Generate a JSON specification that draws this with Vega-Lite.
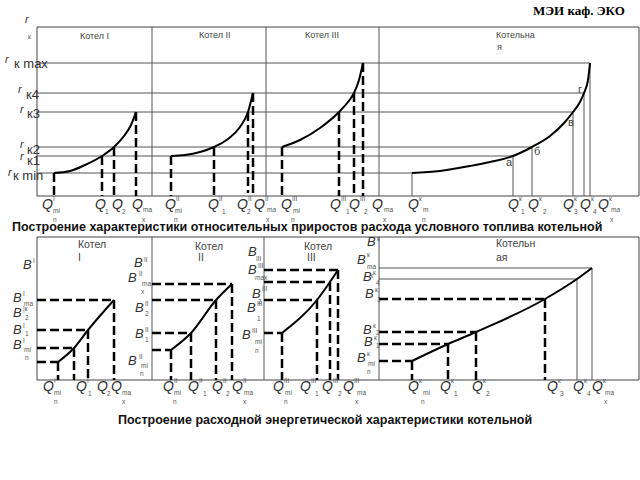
{
"$schema":"https://vega.github.io/schema/vega-lite/v6.json",
"width":640,"height":480,"autosize":{"type":"none"},"padding":0,
"background":"white",
"config":{"view":{"stroke":null},"text":{"font":"Liberation Sans","align":"left","baseline":"middle"}},
"datasets":{
"frames":[{"x":37,"y":27,"x2":639,"y2":196},{"x":37,"y":237,"x2":639,"y2":380}],
"segs":[
{"x":152,"y":27,"x2":152,"y2":196,"k":"thin"},{"x":266,"y":27,"x2":266,"y2":196,"k":"thin"},{"x":379,"y":27,"x2":379,"y2":196,"k":"thin"},
{"x":37,"y":63,"x2":590,"y2":63,"k":"thin"},{"x":37,"y":93,"x2":584,"y2":93,"k":"thin"},{"x":37,"y":112,"x2":573,"y2":112,"k":"thin"},
{"x":37,"y":147,"x2":532,"y2":147,"k":"thin"},{"x":37,"y":156,"x2":513,"y2":156,"k":"thin"},{"x":37,"y":173,"x2":412,"y2":173,"k":"thin"},
{"x":412,"y":173,"x2":412,"y2":196,"k":"thin"},{"x":513,"y":156,"x2":513,"y2":196,"k":"thin"},{"x":532,"y":147,"x2":532,"y2":196,"k":"thin"},
{"x":573,"y":112,"x2":573,"y2":196,"k":"thin"},{"x":584,"y":93,"x2":584,"y2":196,"k":"thin"},{"x":590,"y":63,"x2":590,"y2":196,"k":"thin"},
{"x":54,"y":173,"x2":54,"y2":196,"k":"dash"},{"x":102,"y":156,"x2":102,"y2":196,"k":"dash"},{"x":114,"y":147,"x2":114,"y2":196,"k":"dash"},{"x":136,"y":112,"x2":136,"y2":196,"k":"dash"},
{"x":171,"y":156,"x2":171,"y2":196,"k":"dash"},{"x":214,"y":147,"x2":214,"y2":196,"k":"dash"},{"x":248,"y":112,"x2":248,"y2":193,"k":"dash"},{"x":253,"y":93,"x2":253,"y2":196,"k":"dash"},
{"x":282,"y":147,"x2":282,"y2":196,"k":"dash"},{"x":339,"y":112,"x2":339,"y2":196,"k":"dash"},{"x":354,"y":93,"x2":354,"y2":196,"k":"dash"},{"x":363,"y":63,"x2":363,"y2":196,"k":"dash"},
{"x":152,"y":237,"x2":152,"y2":380,"k":"thin"},{"x":264,"y":237,"x2":264,"y2":380,"k":"thin"},{"x":379,"y":237,"x2":379,"y2":380,"k":"thin"},
{"x":379,"y":268,"x2":592,"y2":268,"k":"thin"},{"x":379,"y":279,"x2":577,"y2":279,"k":"thin"},{"x":577,"y":279,"x2":577,"y2":380,"k":"thin"},{"x":592,"y":268,"x2":592,"y2":380,"k":"thin"},
{"x":37,"y":300,"x2":114,"y2":300,"k":"dash"},{"x":37,"y":330,"x2":88,"y2":330,"k":"dash"},{"x":37,"y":348,"x2":74,"y2":348,"k":"dash"},{"x":37,"y":362,"x2":58,"y2":362,"k":"dash"},
{"x":58,"y":362,"x2":58,"y2":380,"k":"dash"},{"x":74,"y":348,"x2":74,"y2":380,"k":"dash"},{"x":88,"y":330,"x2":88,"y2":380,"k":"dash"},{"x":114,"y":300,"x2":114,"y2":380,"k":"dash"},
{"x":152,"y":284,"x2":232,"y2":284,"k":"dash"},{"x":152,"y":300,"x2":216,"y2":300,"k":"dash"},{"x":152,"y":333,"x2":191,"y2":333,"k":"dash"},{"x":152,"y":350,"x2":171,"y2":350,"k":"dash"},
{"x":171,"y":350,"x2":171,"y2":380,"k":"dash"},{"x":191,"y":333,"x2":191,"y2":380,"k":"dash"},{"x":216,"y":300,"x2":216,"y2":380,"k":"dash"},{"x":232,"y":284,"x2":232,"y2":380,"k":"dash"},
{"x":264,"y":270,"x2":338,"y2":270,"k":"dash"},{"x":264,"y":282,"x2":330,"y2":282,"k":"dash"},{"x":264,"y":300,"x2":317,"y2":300,"k":"dash"},{"x":264,"y":333,"x2":282,"y2":333,"k":"dash"},
{"x":282,"y":333,"x2":282,"y2":380,"k":"dash"},{"x":317,"y":300,"x2":317,"y2":380,"k":"dash"},{"x":330,"y":282,"x2":330,"y2":380,"k":"dash"},{"x":338,"y":270,"x2":338,"y2":380,"k":"dash"},
{"x":379,"y":299,"x2":545,"y2":299,"k":"dash"},{"x":379,"y":332,"x2":476,"y2":332,"k":"dash"},{"x":379,"y":344,"x2":448,"y2":344,"k":"dash"},{"x":379,"y":361,"x2":412,"y2":361,"k":"dash"},
{"x":412,"y":361,"x2":412,"y2":380,"k":"dash"},{"x":448,"y":344,"x2":448,"y2":380,"k":"dash"},{"x":476,"y":332,"x2":476,"y2":380,"k":"dash"},{"x":545,"y":299,"x2":545,"y2":380,"k":"dash"}
],
"curves":[
{"c":"t1","x":54,"y":173},{"c":"t1","x":70,"y":171},{"c":"t1","x":85,"y":165},{"c":"t1","x":102,"y":156},{"c":"t1","x":114,"y":147},{"c":"t1","x":124,"y":136},{"c":"t1","x":131,"y":125},{"c":"t1","x":136,"y":112},
{"c":"t2","x":171,"y":156},{"c":"t2","x":185,"y":155},{"c":"t2","x":200,"y":152},{"c":"t2","x":214,"y":147},{"c":"t2","x":228,"y":139},{"c":"t2","x":240,"y":127},{"c":"t2","x":248,"y":112},{"c":"t2","x":253,"y":93},
{"c":"t3","x":282,"y":147},{"c":"t3","x":300,"y":140},{"c":"t3","x":320,"y":128},{"c":"t3","x":339,"y":112},{"c":"t3","x":348,"y":102},{"c":"t3","x":354,"y":93},{"c":"t3","x":359,"y":80},{"c":"t3","x":363,"y":63},
{"c":"t4","x":412,"y":173},{"c":"t4","x":440,"y":171},{"c":"t4","x":470,"y":166},{"c":"t4","x":490,"y":162},{"c":"t4","x":513,"y":156},{"c":"t4","x":532,"y":147},{"c":"t4","x":550,"y":136},{"c":"t4","x":565,"y":122},{"c":"t4","x":573,"y":112},{"c":"t4","x":580,"y":102},{"c":"t4","x":584,"y":93},{"c":"t4","x":588,"y":80},{"c":"t4","x":590,"y":63},
{"c":"b1","x":58,"y":362},{"c":"b1","x":74,"y":348},{"c":"b1","x":88,"y":330},{"c":"b1","x":114,"y":300},
{"c":"b2","x":171,"y":350},{"c":"b2","x":191,"y":333},{"c":"b2","x":216,"y":300},{"c":"b2","x":232,"y":284},
{"c":"b3","x":282,"y":333},{"c":"b3","x":317,"y":300},{"c":"b3","x":330,"y":282},{"c":"b3","x":338,"y":270},
{"c":"b4","x":412,"y":361},{"c":"b4","x":448,"y":344},{"c":"b4","x":476,"y":332},{"c":"b4","x":545,"y":299},{"c":"b4","x":577,"y":279},{"c":"b4","x":592,"y":268}
],
"labels":[
{"k":"r","t":"r","x":25,"y":20},{"k":"s","t":"к","x":28,"y":37},
{"k":"r","t":"r","x":5,"y":60},{"k":"lb","t":"к max","x":14,"y":64},
{"k":"r","t":"r","x":18,"y":90},{"k":"lb","t":"к4","x":26,"y":95},
{"k":"r","t":"r","x":20,"y":110},{"k":"lb","t":"к3","x":27,"y":114},
{"k":"r","t":"r","x":20,"y":145},{"k":"lb","t":"к2","x":27,"y":150},
{"k":"r","t":"r","x":20,"y":157},{"k":"lb","t":"к1","x":27,"y":161},
{"k":"r","t":"r","x":8,"y":173},{"k":"lb","t":"к min","x":13,"y":176},
{"k":"t","t":"Котел I","x":80,"y":36},{"k":"t","t":"Котел II","x":199,"y":35},{"k":"t","t":"Котел III","x":305,"y":35},{"k":"t","t":"Котельна","x":496,"y":35},{"k":"t","t":"я","x":497,"y":47},
{"k":"g","t":"а","x":506,"y":163},{"k":"g","t":"б","x":534,"y":152},{"k":"g","t":"в","x":568,"y":123},{"k":"g","t":"г","x":578,"y":90},
{"k":"brand","t":"МЭИ каф. ЭКО","x":533,"y":11},
{"k":"Q","t":"Q","x":42,"y":205},{"k":"s","t":"I","x":53,"y":199},{"k":"s","t":"mi","x":53,"y":211},{"k":"s","t":"n","x":53,"y":220},
{"k":"Q","t":"Q","x":95,"y":205},{"k":"s","t":"1","x":105,"y":212},
{"k":"Q","t":"Q","x":112,"y":205},{"k":"s","t":"2","x":122,"y":212},
{"k":"Q","t":"Q","x":132,"y":205},{"k":"s","t":"ma","x":143,"y":210},{"k":"s","t":"x","x":142,"y":220},
{"k":"Q","t":"Q","x":165,"y":205},{"k":"s","t":"II","x":176,"y":199},{"k":"s","t":"mi","x":175,"y":211},{"k":"s","t":"n","x":174,"y":220},
{"k":"Q","t":"Q","x":208,"y":205},{"k":"s","t":"II","x":219,"y":199},{"k":"s","t":"1","x":222,"y":212},
{"k":"Q","t":"Q","x":237,"y":205},{"k":"s","t":"II","x":248,"y":199},{"k":"s","t":"2","x":247,"y":212},
{"k":"Q","t":"Q","x":254,"y":205},{"k":"s","t":"II","x":265,"y":199},{"k":"s","t":"ma","x":267,"y":210},{"k":"s","t":"x","x":266,"y":220},
{"k":"Q","t":"Q","x":281,"y":205},{"k":"s","t":"III","x":292,"y":199},{"k":"s","t":"mi","x":293,"y":211},{"k":"s","t":"n","x":291,"y":220},
{"k":"Q","t":"Q","x":330,"y":205},{"k":"s","t":"III","x":341,"y":199},{"k":"s","t":"1","x":346,"y":212},
{"k":"Q","t":"Q","x":349,"y":205},{"k":"s","t":"III","x":360,"y":199},{"k":"s","t":"2","x":364,"y":212},
{"k":"Q","t":"Q","x":372,"y":205},{"k":"s","t":"ma","x":384,"y":210},{"k":"s","t":"x","x":383,"y":220},
{"k":"Q","t":"Q","x":408,"y":205},{"k":"s","t":"к","x":419,"y":199},{"k":"s","t":"m","x":423,"y":210},{"k":"s","t":"n","x":422,"y":220},
{"k":"Q","t":"Q","x":508,"y":205},{"k":"s","t":"к","x":519,"y":199},{"k":"s","t":"1","x":521,"y":212},
{"k":"Q","t":"Q","x":528,"y":205},{"k":"s","t":"к","x":539,"y":199},{"k":"s","t":"2","x":543,"y":212},
{"k":"Q","t":"Q","x":563,"y":205},{"k":"s","t":"к","x":574,"y":199},{"k":"s","t":"3","x":574,"y":212},
{"k":"Q","t":"Q","x":580,"y":205},{"k":"s","t":"к","x":591,"y":199},{"k":"s","t":"4","x":593,"y":212},
{"k":"Q","t":"Q","x":598,"y":205},{"k":"s","t":"к","x":609,"y":199},{"k":"s","t":"ma","x":611,"y":210},{"k":"s","t":"x","x":610,"y":220},
{"k":"cap","t":"Построение характеристики относительных приростов расхода условного топлива котельной","x":12,"y":227},
{"k":"cap","t":"Построение расходной энергетической характеристики котельной","x":118,"y":420},
{"k":"t2","t":"Котел","x":78,"y":245},{"k":"t2","t":"I","x":78,"y":258},
{"k":"t2","t":"Котел","x":195,"y":247},{"k":"t2","t":"II","x":198,"y":258},
{"k":"t2","t":"Котел","x":304,"y":247},{"k":"t2","t":"III","x":307,"y":258},
{"k":"t2","t":"Котельн","x":496,"y":244},{"k":"t2","t":"ая","x":496,"y":258},
{"k":"B","t":"B","x":23,"y":265},{"k":"s","t":"I","x":33,"y":261},
{"k":"B","t":"B","x":13,"y":298},{"k":"s","t":"I","x":23,"y":294},{"k":"s","t":"ma","x":24,"y":304},
{"k":"B","t":"B","x":13,"y":313},{"k":"s","t":"|к","x":23,"y":309},{"k":"s","t":"2","x":25,"y":318},
{"k":"B","t":"B","x":13,"y":330},{"k":"s","t":"I","x":23,"y":326},{"k":"s","t":"1","x":25,"y":334},
{"k":"B","t":"B","x":13,"y":345},{"k":"s","t":"I","x":23,"y":341},{"k":"s","t":"mi","x":24,"y":350},{"k":"s","t":"n","x":25,"y":358},
{"k":"B","t":"B","x":134,"y":263},{"k":"s","t":"II","x":144,"y":260},
{"k":"B","t":"B","x":128,"y":278},{"k":"s","t":"II","x":139,"y":274},{"k":"s","t":"ma","x":142,"y":284},{"k":"s","t":"x","x":141,"y":292},
{"k":"B","t":"B","x":135,"y":308},{"k":"s","t":"II","x":145,"y":304},{"k":"s","t":"2","x":145,"y":314},
{"k":"B","t":"B","x":135,"y":334},{"k":"s","t":"II","x":145,"y":330},{"k":"s","t":"1","x":145,"y":340},
{"k":"B","t":"B","x":128,"y":361},{"k":"s","t":"II","x":139,"y":357},{"k":"s","t":"mi","x":141,"y":366},{"k":"s","t":"n","x":140,"y":374},
{"k":"B","t":"B","x":248,"y":252},{"k":"s","t":"III","x":256,"y":259},
{"k":"B","t":"B","x":248,"y":270},{"k":"s","t":"III","x":258,"y":266},{"k":"s","t":"max","x":255,"y":278},
{"k":"B","t":"B","x":252,"y":294},{"k":"s","t":"III","x":262,"y":289},{"k":"s","t":"2","x":258,"y":302},
{"k":"B","t":"B","x":247,"y":308},{"k":"s","t":"III","x":257,"y":304},{"k":"s","t":"1","x":257,"y":319},
{"k":"B","t":"B","x":242,"y":335},{"k":"s","t":"III","x":252,"y":331},{"k":"s","t":"mi","x":255,"y":342},{"k":"s","t":"n","x":255,"y":351},
{"k":"B","t":"B","x":367,"y":242},{"k":"s","t":"к","x":377,"y":239},
{"k":"B","t":"B","x":357,"y":260},{"k":"s","t":"к","x":367,"y":255},{"k":"s","t":"ma","x":367,"y":267},{"k":"s","t":"x","x":370,"y":276},
{"k":"B","t":"B","x":363,"y":277},{"k":"s","t":"к","x":373,"y":273},{"k":"s","t":"4","x":376,"y":283},
{"k":"B","t":"B","x":365,"y":294},{"k":"s","t":"к","x":375,"y":290},{"k":"s","t":"3","x":377,"y":300},
{"k":"B","t":"B","x":363,"y":330},{"k":"s","t":"к","x":373,"y":326},{"k":"s","t":"2","x":376,"y":333},
{"k":"B","t":"B","x":364,"y":342},{"k":"s","t":"к","x":374,"y":338},{"k":"s","t":"1","x":376,"y":346},
{"k":"B","t":"B","x":357,"y":358},{"k":"s","t":"к","x":367,"y":354},{"k":"s","t":"mi","x":368,"y":364},{"k":"s","t":"n","x":367,"y":372},
{"k":"Q","t":"Q","x":43,"y":387},{"k":"s","t":"I","x":54,"y":381},{"k":"s","t":"mi","x":54,"y":393},{"k":"s","t":"n","x":54,"y":402},
{"k":"Q","t":"Q","x":76,"y":387},{"k":"s","t":"I","x":87,"y":381},{"k":"s","t":"1","x":88,"y":394},
{"k":"Q","t":"Q","x":97,"y":387},{"k":"s","t":"2","x":107,"y":394},
{"k":"Q","t":"Q","x":111,"y":387},{"k":"s","t":"ma","x":122,"y":393},{"k":"s","t":"x","x":122,"y":402},
{"k":"Q","t":"Q","x":163,"y":387},{"k":"s","t":"II","x":174,"y":381},{"k":"s","t":"mi","x":174,"y":393},{"k":"s","t":"n","x":173,"y":402},
{"k":"Q","t":"Q","x":188,"y":387},{"k":"s","t":"II","x":199,"y":381},{"k":"s","t":"1","x":203,"y":394},
{"k":"Q","t":"Q","x":212,"y":387},{"k":"s","t":"II","x":223,"y":381},{"k":"s","t":"2","x":226,"y":394},
{"k":"Q","t":"Q","x":232,"y":387},{"k":"s","t":"II","x":243,"y":381},{"k":"s","t":"ma","x":244,"y":393},{"k":"s","t":"x","x":243,"y":402},
{"k":"Q","t":"Q","x":273,"y":387},{"k":"s","t":"III","x":284,"y":381},{"k":"s","t":"mi","x":285,"y":393},{"k":"s","t":"n","x":284,"y":402},
{"k":"Q","t":"Q","x":300,"y":387},{"k":"s","t":"III","x":311,"y":381},{"k":"s","t":"1","x":315,"y":394},
{"k":"Q","t":"Q","x":322,"y":387},{"k":"s","t":"III","x":333,"y":381},{"k":"s","t":"2","x":338,"y":394},
{"k":"Q","t":"Q","x":343,"y":387},{"k":"s","t":"III","x":354,"y":381},{"k":"s","t":"ma","x":357,"y":393},{"k":"s","t":"x","x":355,"y":402},
{"k":"Q","t":"Q","x":408,"y":387},{"k":"s","t":"к","x":419,"y":381},{"k":"s","t":"mi","x":423,"y":393},{"k":"s","t":"n","x":421,"y":402},
{"k":"Q","t":"Q","x":440,"y":387},{"k":"s","t":"к","x":451,"y":381},{"k":"s","t":"1","x":454,"y":394},
{"k":"Q","t":"Q","x":472,"y":387},{"k":"s","t":"к","x":483,"y":381},{"k":"s","t":"2","x":486,"y":394},
{"k":"Q","t":"Q","x":547,"y":387},{"k":"s","t":"к","x":558,"y":381},{"k":"s","t":"3","x":560,"y":394},
{"k":"Q","t":"Q","x":573,"y":387},{"k":"s","t":"к","x":584,"y":381},{"k":"s","t":"4","x":587,"y":394},
{"k":"Q","t":"Q","x":592,"y":387},{"k":"s","t":"к","x":603,"y":381},{"k":"s","t":"ma","x":605,"y":393},{"k":"s","t":"x","x":604,"y":402}
]
},
"layer":[
{"data":{"name":"frames"},"mark":{"type":"rect","fill":null,"fillOpacity":0,"stroke":"#444","strokeWidth":1},
 "encoding":{"x":{"field":"x","type":"quantitative","scale":{"domain":[0,640],"nice":false,"zero":false},"axis":null},"x2":{"field":"x2"},
 "y":{"field":"y","type":"quantitative","scale":{"domain":[0,480],"nice":false,"zero":false,"reverse":true},"axis":null},"y2":{"field":"y2"}}},
{"data":{"name":"segs"},"transform":[{"filter":"datum.k=='thin'"}],"mark":{"type":"rule","stroke":"#555","strokeWidth":1},
 "encoding":{"x":{"field":"x","type":"quantitative"},"x2":{"field":"x2"},"y":{"field":"y","type":"quantitative"},"y2":{"field":"y2"}}},
{"data":{"name":"segs"},"transform":[{"filter":"datum.k=='dash'"}],"mark":{"type":"rule","stroke":"#000","strokeWidth":2.5,"strokeDash":[9,4]},
 "encoding":{"x":{"field":"x","type":"quantitative"},"x2":{"field":"x2"},"y":{"field":"y","type":"quantitative"},"y2":{"field":"y2"}}},
{"data":{"name":"curves"},"mark":{"type":"line","stroke":"#000","strokeWidth":2,"interpolate":"monotone"},
 "encoding":{"x":{"field":"x","type":"quantitative"},"y":{"field":"y","type":"quantitative"},"detail":{"field":"c"},"order":{"field":"x","type":"quantitative"}}},
{"data":{"name":"labels"},"transform":[{"filter":"datum.k=='Q'"}],"mark":{"type":"text","fontSize":14,"fontStyle":"italic","fill":"#333"},
 "encoding":{"x":{"field":"x","type":"quantitative"},"y":{"field":"y","type":"quantitative"},"text":{"field":"t"}}},
{"data":{"name":"labels"},"transform":[{"filter":"datum.k=='B'"}],"mark":{"type":"text","fontSize":13,"fontStyle":"italic","fill":"#333"},
 "encoding":{"x":{"field":"x","type":"quantitative"},"y":{"field":"y","type":"quantitative"},"text":{"field":"t"}}},
{"data":{"name":"labels"},"transform":[{"filter":"datum.k=='r'"}],"mark":{"type":"text","fontSize":11,"fontStyle":"italic","fill":"#333"},
 "encoding":{"x":{"field":"x","type":"quantitative"},"y":{"field":"y","type":"quantitative"},"text":{"field":"t"}}},
{"data":{"name":"labels"},"transform":[{"filter":"datum.k=='s'"}],"mark":{"type":"text","fontSize":6.5,"fill":"#555"},
 "encoding":{"x":{"field":"x","type":"quantitative"},"y":{"field":"y","type":"quantitative"},"text":{"field":"t"}}},
{"data":{"name":"labels"},"transform":[{"filter":"datum.k=='lb'"}],"mark":{"type":"text","fontSize":13,"fill":"#333"},
 "encoding":{"x":{"field":"x","type":"quantitative"},"y":{"field":"y","type":"quantitative"},"text":{"field":"t"}}},
{"data":{"name":"labels"},"transform":[{"filter":"datum.k=='t'"}],"mark":{"type":"text","fontSize":9,"fill":"#444"},
 "encoding":{"x":{"field":"x","type":"quantitative"},"y":{"field":"y","type":"quantitative"},"text":{"field":"t"}}},
{"data":{"name":"labels"},"transform":[{"filter":"datum.k=='t2'"}],"mark":{"type":"text","fontSize":10.5,"fill":"#444"},
 "encoding":{"x":{"field":"x","type":"quantitative"},"y":{"field":"y","type":"quantitative"},"text":{"field":"t"}}},
{"data":{"name":"labels"},"transform":[{"filter":"datum.k=='g'"}],"mark":{"type":"text","fontSize":11,"fill":"#444"},
 "encoding":{"x":{"field":"x","type":"quantitative"},"y":{"field":"y","type":"quantitative"},"text":{"field":"t"}}},
{"data":{"name":"labels"},"transform":[{"filter":"datum.k=='cap'"}],"mark":{"type":"text","fontSize":12.5,"fontWeight":"bold","fill":"#111"},
 "encoding":{"x":{"field":"x","type":"quantitative"},"y":{"field":"y","type":"quantitative"},"text":{"field":"t"}}},
{"data":{"name":"labels"},"transform":[{"filter":"datum.k=='brand'"}],"mark":{"type":"text","fontSize":13,"fontWeight":"bold","font":"Liberation Serif","fill":"#000"},
 "encoding":{"x":{"field":"x","type":"quantitative"},"y":{"field":"y","type":"quantitative"},"text":{"field":"t"}}}
]
}
